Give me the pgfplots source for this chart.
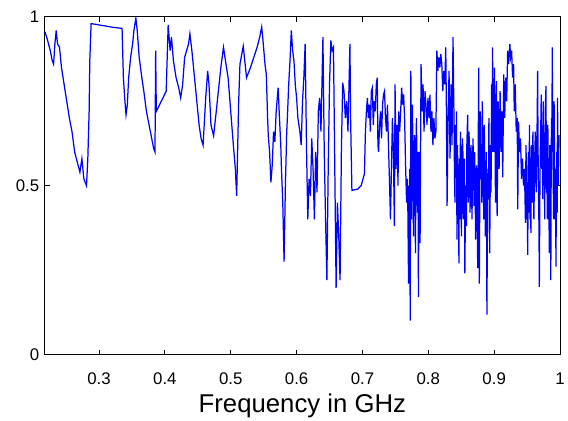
\documentclass[border=0pt]{standalone}
\usepackage{pgfplots}
\pgfplotsset{compat=1.18}
\usepackage{fontspec}
\setmainfont{Liberation Sans}
\begin{document}
\begin{tikzpicture}
\begin{axis}[
  scale only axis,
  width=519bp, height=340bp,
  xmin=0.2175, xmax=1.0, ymin=0, ymax=1,
  xtick={0.3,0.4,0.5,0.6,0.7,0.8,0.9,1},
  xticklabels={0.3,0.4,0.5,0.6,0.7,0.8,0.9,1},
  ytick={0,0.5,1},
  yticklabels={0,0.5,1},
  tick align=inside,
  tick pos=both,
  major tick length=5bp,
  every tick/.style={black, line width=0.9bp},
  axis line style={black, line width=0.9bp},
  /pgf/number format/assume math mode=true,
  tick label style={font=\fontsize{17}{20}\selectfont},
  xticklabel style={anchor=base, yshift=-30bp},
  yticklabel style={anchor=east, xshift=-2bp},
  xlabel={Frequency in GHz},
  xlabel style={font=\fontsize{26}{30}\selectfont, at={(axis description cs:0.5,0)}, anchor=base, yshift=-58bp},
  clip=true,
]
\addplot[color={rgb,255:red,0;green,0;blue,255}, line width=1.25bp, mark=none] coordinates {
(0.218,0.956) (0.222,0.93) (0.226,0.90) (0.229,0.87) (0.231,0.86) (0.233,0.92) (0.235,0.96) (0.237,0.92)
(0.240,0.91) (0.243,0.85) (0.247,0.80) (0.251,0.75) (0.255,0.70) (0.259,0.66) (0.263,0.60) (0.267,0.57)
(0.271,0.54) (0.274,0.58) (0.277,0.52) (0.281,0.50) (0.283,0.58) (0.285,0.72) (0.286,0.87) (0.288,0.98)
(0.295,0.978) (0.303,0.975) (0.310,0.973) (0.318,0.970) (0.326,0.968) (0.335,0.966) (0.337,0.82) (0.339,0.76)
(0.341,0.71) (0.343,0.74) (0.345,0.82) (0.348,0.88) (0.351,0.92) (0.353,0.96) (0.356,0.996) (0.358,0.96)
(0.361,0.88) (0.365,0.82) (0.368,0.78) (0.372,0.72) (0.376,0.68) (0.380,0.64) (0.383,0.61) (0.385,0.60)
(0.386,0.90) (0.387,0.72) (0.392,0.74) (0.397,0.76) (0.402,0.78) (0.405,0.976) (0.408,0.90) (0.410,0.94)
(0.413,0.87) (0.417,0.82) (0.421,0.79) (0.424,0.76) (0.427,0.80) (0.430,0.88) (0.433,0.90) (0.436,0.92)
(0.438,0.95) (0.441,0.90) (0.444,0.84) (0.448,0.76) (0.452,0.68) (0.455,0.64) (0.458,0.62) (0.462,0.76)
(0.465,0.84) (0.467,0.80) (0.470,0.68) (0.474,0.648) (0.478,0.72) (0.481,0.776) (0.485,0.85) (0.489,0.91)
(0.492,0.87) (0.496,0.82) (0.500,0.72) (0.504,0.62) (0.507,0.55) (0.509,0.47) (0.512,0.745) (0.514,0.86)
(0.519,0.913) (0.524,0.82) (0.530,0.85) (0.535,0.88) (0.540,0.91) (0.544,0.94) (0.547,0.97)
(0.549,0.93) (0.552,0.86) (0.554,0.83) (0.556,0.70) (0.557,0.648) (0.559,0.60) (0.561,0.51) (0.563,0.56)
(0.565,0.66) (0.567,0.63) (0.569,0.72) (0.572,0.79) (0.574,0.70) (0.576,0.62) (0.577,0.55) (0.579,0.45)
(0.581,0.275) (0.583,0.50) (0.585,0.66) (0.586,0.70) (0.588,0.80) (0.590,0.87) (0.592,0.96) (0.594,0.90)
(0.596,0.87) (0.598,0.80) (0.600,0.76) (0.602,0.70) (0.605,0.66) (0.607,0.62) (0.609,0.75) (0.611,0.82)
(0.613,0.92) (0.615,0.62) (0.617,0.40) (0.619,0.52) (0.621,0.47) (0.623,0.64) (0.625,0.55) (0.627,0.40)
(0.629,0.60) (0.631,0.48) (0.633,0.72) (0.635,0.76) (0.637,0.66) (0.640,0.94) (0.642,0.60) (0.644,0.40)
(0.646,0.22) (0.648,0.55) (0.650,0.80) (0.652,0.93) (0.654,0.90) (0.656,0.91) (0.658,0.55) (0.660,0.197)
(0.662,0.45) (0.664,0.35) (0.666,0.22) (0.668,0.60) (0.670,0.805) (0.672,0.78) (0.674,0.70) (0.676,0.75)
(0.678,0.66) (0.681,0.92) (0.682,0.70) (0.684,0.486) (0.688,0.488) (0.693,0.49) (0.698,0.50) (0.703,0.535)
(0.7045,0.66) (0.7060,0.72) (0.7075,0.76) (0.7090,0.70) (0.7105,0.74) (0.7120,0.66) (0.7135,0.78) (0.7150,0.79)
(0.7165,0.68) (0.7180,0.75) (0.7195,0.72) (0.7210,0.80) (0.7225,0.82) (0.7235,0.62) (0.7245,0.60) (0.7260,0.68)
(0.7275,0.72) (0.7290,0.64) (0.7305,0.74) (0.7320,0.77) (0.7335,0.78) (0.7350,0.70) (0.7365,0.66) (0.7380,0.74)
(0.7395,0.62) (0.7410,0.52) (0.7425,0.40) (0.7440,0.55) (0.7455,0.70) (0.7470,0.60) (0.7485,0.38) (0.7495,0.80)
(0.7510,0.55) (0.7525,0.68) (0.7540,0.50) (0.7550,0.72) (0.7565,0.66) (0.7580,0.72) (0.7595,0.79) (0.7610,0.74)
(0.7625,0.77) (0.7640,0.70) (0.7655,0.56) (0.7670,0.45) (0.7685,0.52) (0.7700,0.21) (0.7705,0.50) (0.7710,0.30)
(0.7718,0.55) (0.7725,0.10) (0.7735,0.84) (0.7745,0.40) (0.7752,0.62) (0.7760,0.74) (0.7768,0.50) (0.7775,0.35)
(0.7783,0.58) (0.7790,0.65) (0.7798,0.45) (0.7805,0.30) (0.7813,0.62) (0.7820,0.70) (0.7828,0.55) (0.7835,0.42)
(0.7843,0.60) (0.7850,0.17) (0.7855,0.40) (0.7860,0.60) (0.7868,0.45) (0.7875,0.33) (0.7883,0.62) (0.7890,0.86)
(0.7905,0.72) (0.7920,0.80) (0.7935,0.66) (0.7950,0.78)
(0.7965,0.74) (0.7980,0.68) (0.7995,0.76) (0.8010,0.70) (0.8025,0.77) (0.8040,0.66) (0.8055,0.72) (0.8070,0.62)
(0.8085,0.70) (0.8100,0.64) (0.8115,0.66) (0.8130,0.90) (0.8145,0.84) (0.8160,0.88) (0.8175,0.85) (0.8190,0.89)
(0.8205,0.86) (0.8220,0.78) (0.8235,0.84) (0.8250,0.80) (0.8265,0.91) (0.8275,0.72) (0.8285,0.44) (0.8300,0.70)
(0.8315,0.84) (0.8330,0.58) (0.8345,0.80) (0.8360,0.62) (0.8375,0.94) (0.8390,0.70)
(0.8398,0.52) (0.8405,0.45) (0.8412,0.68) (0.8420,0.55) (0.8428,0.72) (0.8435,0.34) (0.8443,0.62) (0.8450,0.52)
(0.8458,0.44) (0.8465,0.27) (0.8472,0.58) (0.8480,0.40) (0.8488,0.66) (0.8495,0.55) (0.8503,0.35) (0.8510,0.48)
(0.8518,0.64) (0.8525,0.60) (0.8533,0.40) (0.8540,0.45) (0.8548,0.58) (0.8555,0.24) (0.8563,0.42) (0.8570,0.50)
(0.8578,0.38) (0.8585,0.62) (0.8597,0.71) (0.8605,0.45) (0.8610,0.52) (0.8618,0.66) (0.8625,0.60) (0.8633,0.42)
(0.8640,0.48) (0.8648,0.62) (0.8655,0.56) (0.8663,0.40) (0.8670,0.50) (0.8678,0.64) (0.8685,0.58) (0.8695,0.44)
(0.8703,0.60) (0.8710,0.52) (0.8718,0.34) (0.8725,0.38) (0.8733,0.56) (0.8740,0.48) (0.8750,0.256) (0.8758,0.62)
(0.8765,0.85) (0.8770,0.50) (0.8775,0.21) (0.8783,0.55) (0.8790,0.72) (0.8798,0.52) (0.8805,0.60) (0.8813,0.45)
(0.8820,0.75) (0.8828,0.62) (0.8835,0.50) (0.8843,0.40) (0.8850,0.68) (0.8858,0.50) (0.8865,0.35) (0.8873,0.52)
(0.8880,0.60) (0.8890,0.118) (0.8898,0.40) (0.8905,0.55) (0.8913,0.46) (0.8920,0.70) (0.8932,0.30) (0.8940,0.50)
(0.8945,0.62) (0.8953,0.48) (0.8960,0.80) (0.8968,0.60) (0.8975,0.91) (0.8983,0.70) (0.8990,0.60)
(0.9005,0.85) (0.9020,0.45) (0.9035,0.81) (0.9045,0.41) (0.9060,0.75) (0.9075,0.55) (0.9090,0.78) (0.9105,0.60)
(0.9120,0.72) (0.9130,0.525) (0.9145,0.83) (0.9160,0.70) (0.9175,0.82) (0.9190,0.75) (0.9205,0.90) (0.9220,0.86)
(0.9238,0.92) (0.9250,0.88) (0.9265,0.90) (0.9280,0.82) (0.9295,0.86) (0.9305,0.72) (0.9320,0.80) (0.9335,0.66)
(0.9350,0.70) (0.9358,0.43) (0.9370,0.69) (0.9385,0.60) (0.9400,0.64) (0.9415,0.52) (0.9430,0.58) (0.9445,0.50)
(0.9460,0.55) (0.9475,0.39) (0.9483,0.62) (0.9490,0.55) (0.9495,0.40) (0.9500,0.48) (0.9510,0.295) (0.9515,0.50)
(0.9520,0.60) (0.9528,0.42) (0.9536,0.68) (0.9543,0.40) (0.9550,0.50) (0.9558,0.36) (0.9565,0.62) (0.9573,0.52)
(0.9580,0.45) (0.9588,0.66) (0.9595,0.58) (0.9603,0.40) (0.9610,0.50) (0.9618,0.60) (0.9625,0.66) (0.9633,0.52)
(0.9640,0.48) (0.9650,0.64) (0.9660,0.84) (0.9666,0.62) (0.9672,0.50) (0.9680,0.38) (0.9686,0.20) (0.9693,0.45)
(0.9700,0.60) (0.9708,0.68) (0.9715,0.77) (0.9723,0.55) (0.9730,0.62) (0.9738,0.46) (0.9745,0.75) (0.9753,0.50)
(0.9760,0.58) (0.9768,0.40) (0.9775,0.72) (0.9787,0.795) (0.9793,0.48) (0.9800,0.55) (0.9808,0.40) (0.9815,0.68)
(0.9823,0.50) (0.9830,0.45) (0.9838,0.30) (0.9845,0.62) (0.9853,0.48) (0.9860,0.22) (0.9865,0.50) (0.9870,0.70)
(0.9876,0.60) (0.9882,0.91) (0.9888,0.68) (0.9895,0.55) (0.9903,0.40) (0.9910,0.75) (0.9918,0.55) (0.9925,0.40)
(0.9932,0.55) (0.9938,0.26) (0.9944,0.45) (0.9950,0.60) (0.9956,0.42) (0.9962,0.76) (0.9968,0.60) (0.9975,0.50)
(0.9985,0.65)
};
\end{axis}
\path ([shift={(-45bp,-64bp)}]current axis.south west) rectangle ([shift={(4bp,17bp)}]current axis.north east);
\end{tikzpicture}
\end{document}
